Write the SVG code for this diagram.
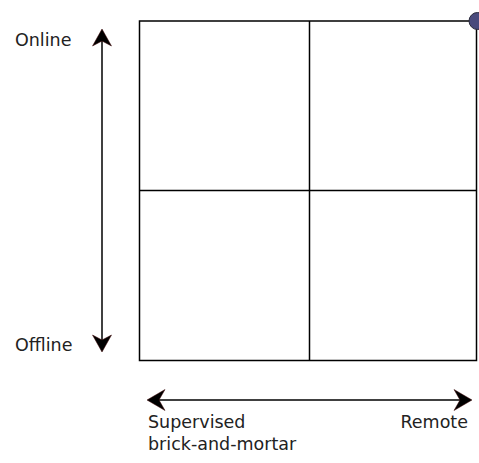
<svg xmlns="http://www.w3.org/2000/svg" width="479" height="463" viewBox="0 0 479 463">
<style>
.grid{fill:none;stroke:#000;stroke-width:1.5}
.ax{stroke:#000;stroke-width:1.5;fill:none}
.head{fill:#000;stroke:#3a0000;stroke-width:0.5}
.lbl{font-family:"DejaVu Sans",sans-serif;font-size:17.5px;fill:#222}
</style>
<rect width="479" height="463" fill="#fff"/>
<g id="matrix">
<rect class="grid" x="139.5" y="21" width="337" height="339.5"/>
<line class="grid" x1="309.5" y1="21" x2="309.5" y2="360.5"/>
<line class="grid" x1="139.5" y1="190.5" x2="476.5" y2="190.5"/>
</g>
<g id="corner-dot">
<circle cx="477.5" cy="21" r="8.5" fill="#4a4a7c" stroke="#2a2a3a" stroke-width="1"/>
</g>
<g id="connectors">
<line class="ax" x1="102" y1="40" x2="102" y2="341"/>
<path class="head" d="M102,29 L111.5,46 L102,41 L92.5,46 Z"/>
<path class="head" d="M102,352 L111.5,335 L102,340 L92.5,335 Z"/>
<line class="ax" x1="158" y1="400" x2="461" y2="400"/>
<path class="head" d="M147,400 L165,389.5 L159,400 L165,410.5 Z"/>
<path class="head" d="M472,400 L454,389.5 L460,400 L454,410.5 Z"/>
</g>
<g id="labels">
<text class="lbl" x="15" y="46">Online</text>
<text class="lbl" x="15" y="351">Offline</text>
<text class="lbl" x="148" y="428">Supervised</text>
<text class="lbl" x="148" y="450">brick-and-mortar</text>
<text class="lbl" x="468" y="428" text-anchor="end">Remote</text>
</g>
</svg>
